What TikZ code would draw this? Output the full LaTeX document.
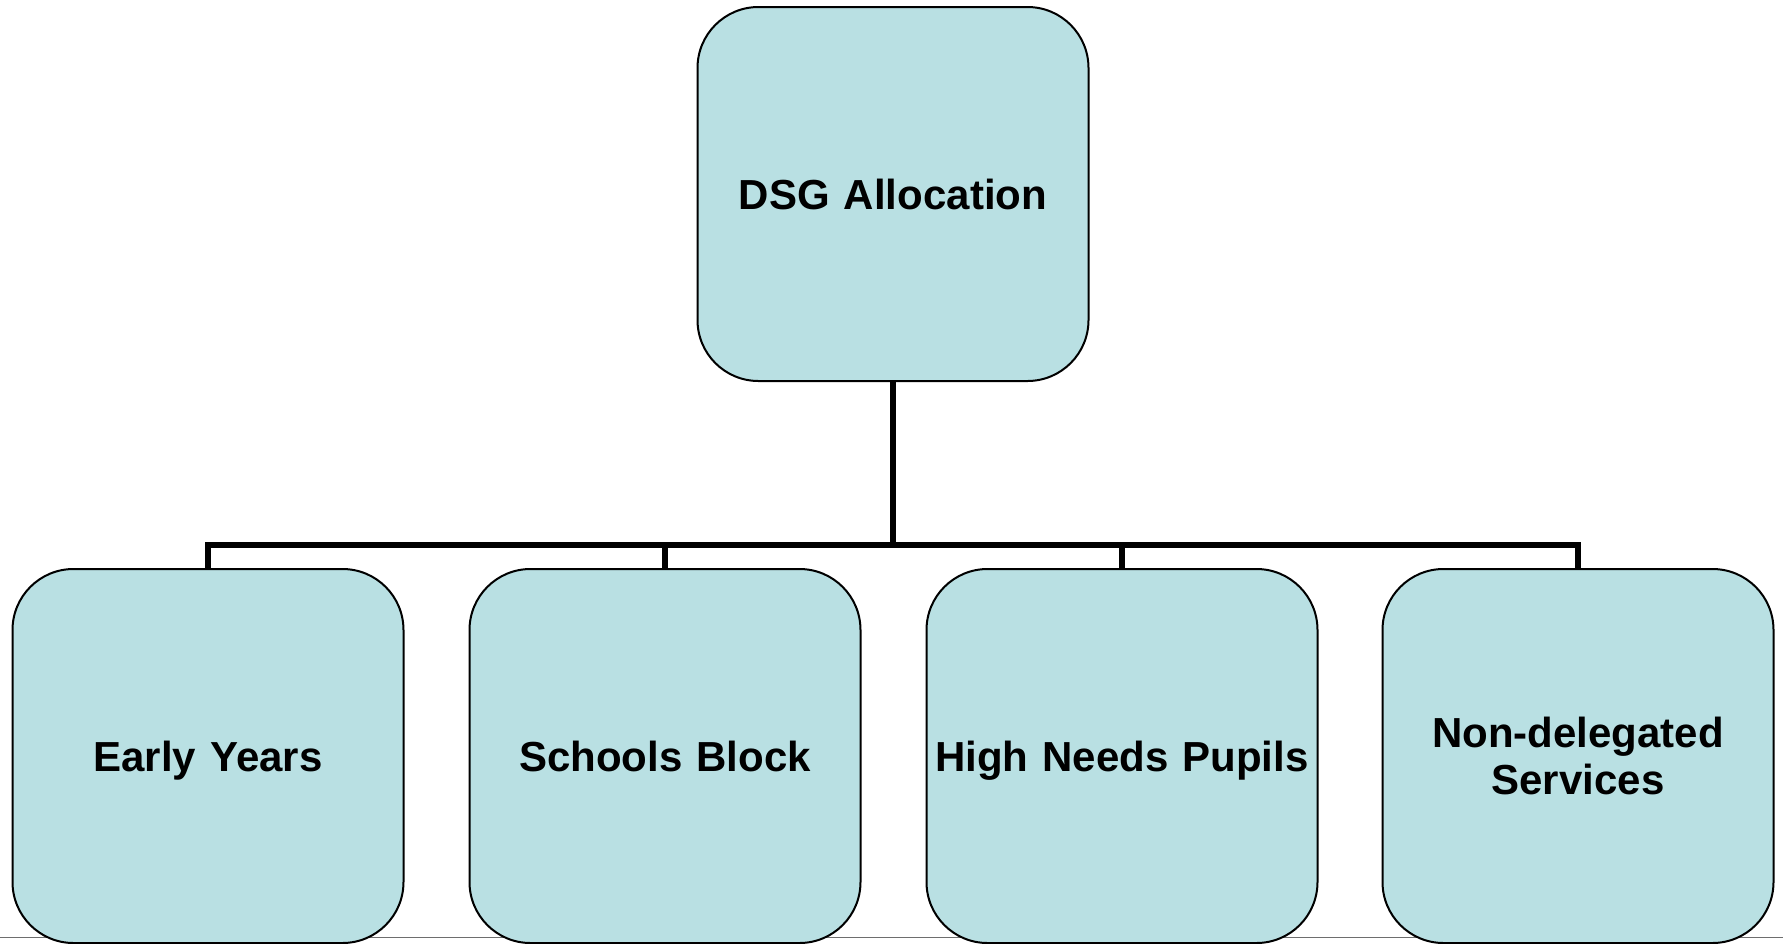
\documentclass[tikz,border=0pt]{standalone}
\usepackage{fontspec}
\setmainfont{Liberation Sans}
\definecolor{boxfill}{RGB}{185,224,227}
\definecolor{rulegray}{RGB}{110,110,110}
\begin{document}
\begin{tikzpicture}[x=1pt,y=-1pt,
  box/.style={draw=black, line width=2pt, fill=boxfill, rounded corners=61pt,
    minimum width=391pt, minimum height=374pt, inner sep=0pt, align=center,
    text width=385pt, font=\fontsize{42}{47}\selectfont\bfseries},
  oneline/.style={text height=30pt, text depth=0pt},
  twoline/.style={text height=30pt, text depth=48pt},
  conn/.style={draw=black, line width=5.5pt}]
\useasboundingbox (0,0) rectangle (1783,943);
\draw[rulegray, line width=1.5pt] (0,937.5) -- (1783,937.5);
\node[box, oneline] (top) at (893,194) {DSG Allocation};
\node[box, oneline] (ey) at (208,756) {Early Years};
\node[box, oneline] (sb) at (665,756) {Schools Block};
\node[box, oneline] (hn) at (1122,756) {High Needs Pupils};
\node[box, twoline] (nd) at (1578,756) {Non-delegated\\Services};
\coordinate (hub) at (893,545);
\draw[conn] (top.south) -- (hub);
\draw[conn] (ey.north) |- (hub);
\draw[conn] (sb.north) |- (hub);
\draw[conn] (hn.north) |- (hub);
\draw[conn] (nd.north) |- (hub);
\end{tikzpicture}
\end{document}
